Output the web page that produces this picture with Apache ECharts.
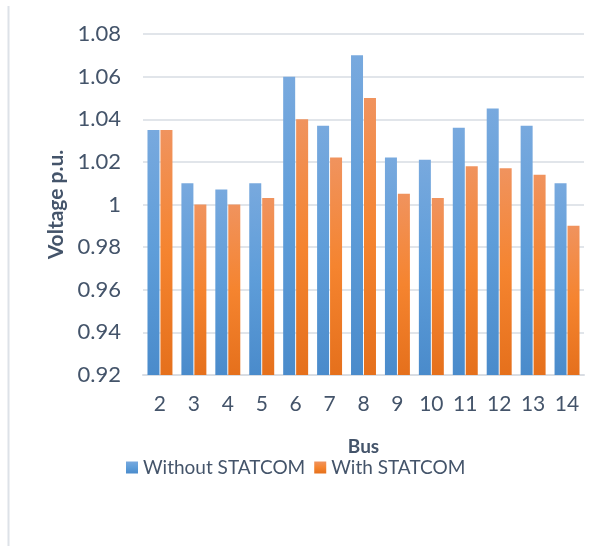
<!DOCTYPE html>
<html>
<head>
<meta charset="utf-8">
<script src="https://cdn.jsdelivr.net/npm/echarts@6/dist/echarts.min.js"></script>
<style>
  html, body { margin: 0; padding: 0; background: #fff; }
  #chart { width: 608px; height: 546px; }
</style>
</head>
<body>
<div id="chart"></div>
<script>
// Bus voltage profile, with and without a STATCOM
const buses = ['2', '3', '4', '5', '6', '7', '8', '9', '10', '11', '12', '13', '14'];
const withoutStatcom = [1.035, 1.010, 1.007, 1.010, 1.060, 1.037, 1.070, 1.022, 1.021, 1.036, 1.045, 1.037, 1.010];
const withStatcom    = [1.035, 1.000, 1.000, 1.003, 1.040, 1.022, 1.050, 1.005, 1.003, 1.018, 1.017, 1.014, 0.990];
const yTicks = [0.92, 0.94, 0.96, 0.98, 1, 1.02, 1.04, 1.06, 1.08];

const textColor = '#44546A';
const fontFamily = 'Lato, "Liberation Sans", sans-serif';

function grad(top, mid, bottom) {
  return new echarts.graphic.LinearGradient(0, 0, 0, 1, [
    { offset: 0, color: top },
    { offset: 0.5, color: mid },
    { offset: 1, color: bottom }
  ]);
}

const chart = echarts.init(document.getElementById('chart'), null, { renderer: 'canvas' });

chart.setOption({
  backgroundColor: '#fff',
  animation: false,
  graphic: [{
    type: 'line',
    shape: { x1: 8.5, y1: 6, x2: 8.5, y2: 546 },
    style: { stroke: '#dde2e8', lineWidth: 2 }
  }],
  grid: { left: 143, right: 24, top: 34, bottom: 171, containLabel: false },
  legend: {
    data: ['Without STATCOM', 'With STATCOM'],
    top: 453,
    left: 121,
    icon: 'rect',
    itemWidth: 12,
    itemHeight: 12,
    itemGap: 9,
    textStyle: { color: textColor, fontSize: 19, fontFamily: fontFamily }
  },
  xAxis: {
    type: 'category',
    data: buses,
    name: 'Bus',
    nameLocation: 'middle',
    nameGap: 62,
    nameTextStyle: { color: textColor, fontSize: 19, fontWeight: 'bold', fontFamily: fontFamily },
    axisLine: { show: true, lineStyle: { color: '#d9dde3', width: 2 } },
    axisTick: { show: false },
    axisLabel: { color: textColor, fontSize: 21, margin: 19, fontFamily: fontFamily }
  },
  yAxis: {
    type: 'value',
    min: 0.92,
    max: 1.08,
    interval: 0.02,
    name: 'Voltage p.u.',
    nameLocation: 'middle',
    nameGap: 72,
    nameRotate: 90,
    nameTextStyle: { color: textColor, fontSize: 21, fontWeight: 'bold', fontFamily: fontFamily },
    axisLine: { show: false },
    axisTick: { show: false },
    axisLabel: {
      color: textColor, fontSize: 22, margin: 22, fontFamily: fontFamily,
      formatter: function (v) {
        const hit = yTicks.find(t => Math.abs(t - v) < 1e-9);
        return hit === undefined ? '' : String(hit);
      }
    },
    splitLine: { lineStyle: { color: '#e1e5ea', width: 2 } }
  },
  series: [
    {
      name: 'Without STATCOM',
      type: 'bar',
      data: withoutStatcom,
      barWidth: 12,
      barGap: '8%',
      itemStyle: { color: grad('#78a9de', '#5e9dd9', '#4a8bcb') }
    },
    {
      name: 'With STATCOM',
      type: 'bar',
      data: withStatcom,
      barWidth: 12,
      itemStyle: { color: grad('#f0935e', '#f5842f', '#e5701c') }
    }
  ]
});
</script>
</body>
</html>
